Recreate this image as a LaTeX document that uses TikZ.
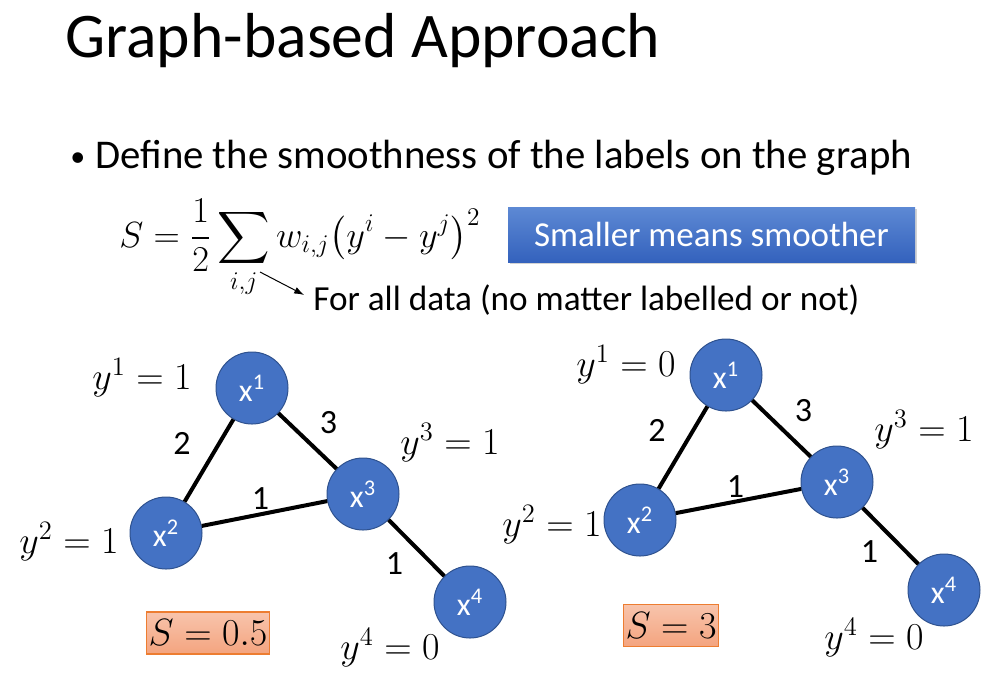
\RequirePackage{fix-cm}
\documentclass[tikz,border=0pt]{standalone}
\usepackage{amsmath,amssymb}
\usepackage[no-math]{fontspec}
\setmainfont{Carlito}
\usetikzlibrary{arrows.meta,shadows}

\definecolor{nodeblue}{HTML}{4472C4}
\definecolor{nodeline}{HTML}{2F528F}
\definecolor{boxtop}{HTML}{5D89D4}
\definecolor{boxbottom}{HTML}{3462BD}
\definecolor{salmontop}{HTML}{F8C4AC}
\definecolor{salmonbottom}{HTML}{F4A47F}
\definecolor{salmonline}{HTML}{ED7D31}

\begin{document}
\begin{tikzpicture}[x=0.5pt, y=-0.5pt,
	vtx/.style={circle, fill=nodeblue, draw=nodeline, line width=0.5pt, minimum size=36pt, inner sep=0pt, text=white, font=\fontsize{16}{16}\selectfont},
	edge/.style={line width=2pt},
	wlab/.style={font=\fontsize{17}{17}\selectfont, inner sep=0pt},
	ylab/.style={font=\fontsize{19}{19}\selectfont, inner sep=0pt},
	sbox/.style={draw=salmonline, top color=salmontop, bottom color=salmonbottom, line width=0.6pt, minimum height=21pt, inner xsep=1pt, font=\fontsize{19}{19}\selectfont}]
	\useasboundingbox (0,0) rectangle (997,677);
	% title and bullet
	\node[anchor=base west, inner sep=0pt, font=\fontsize{31.8}{31.8}\selectfont] (title) at (65,57) {Graph-based Approach};
	\node[anchor=base west, inner sep=0pt, font=\fontsize{15}{15}\selectfont] (dot) at (70,166) {\textbullet};
	\node[anchor=base west, inner sep=0pt, font=\fontsize{20.4}{20.4}\selectfont] (define) at (95,168) {Define the smoothness of the labels on the graph};
	% smoothness formula
	\node[anchor=base west, inner sep=0pt, font=\fontsize{18.2}{18.2}\selectfont] (formula) at (119,247) {$\displaystyle S=\frac{1}{2}\sum_{i,j} w_{i,j}\bigl(y^i-y^j\bigr)^2$};
	\node[anchor=base west, inner sep=0pt, font=\fontsize{17.6}{17.6}\selectfont] (forall) at (313,310) {For all data (no matter labelled or not)};
	\coordinate (ij) at (260,272);
	\draw[-{Latex[length=5pt, width=3.5pt]}, line width=0.5pt, shorten >=5pt] (ij) -- (forall.west);
	\node[minimum width=203.5pt, minimum height=27.5pt, inner sep=0pt, top color=boxtop, bottom color=boxbottom, text=white,
	  drop shadow={opacity=0.35, shadow xshift=1pt, shadow yshift=-1.2pt}, font=\fontsize{17.5}{17.5}\selectfont] (smooth) at (711.5,234.5) {Smaller means smoother};
	% left graph
	\node[vtx] (a1) at (252,388) {x\textsuperscript{1}};
	\node[vtx] (a2) at (166,533) {x\textsuperscript{2}};
	\node[vtx] (a3) at (363,494) {x\textsuperscript{3}};
	\node[vtx] (a4) at (470,602) {x\textsuperscript{4}};
	\draw[edge] (a1) -- node[wlab, xshift=-13.5pt, yshift=8.5pt] (a12) {2} (a2);
	\draw[edge] (a1) -- node[wlab, xshift=10.5pt, yshift=9pt] (a13) {3} (a3);
	\draw[edge] (a2) -- node[wlab, xshift=-2pt, yshift=7.5pt] (a23) {1} (a3);
	\draw[edge] (a3) -- node[wlab, xshift=-11pt, yshift=-8pt] (a34) {1} (a4);
	\node[ylab] (ay1) at (142,378) {$y^1=1$};
	\node[ylab] (ay2) at (69,542) {$y^2=1$};
	\node[ylab] (ay3) at (450,443) {$y^3=1$};
	\node[ylab] (ay4) at (390,648) {$y^4=0$};
	\node[sbox] (as) at (208,633) {$S=0.5$};
	% right graph
	\node[vtx] (b1) at (726,375) {x\textsuperscript{1}};
	\node[vtx] (b2) at (640,520) {x\textsuperscript{2}};
	\node[vtx] (b3) at (837,482) {x\textsuperscript{3}};
	\node[vtx] (b4) at (944,590) {x\textsuperscript{4}};
	\draw[edge] (b1) -- node[wlab, xshift=-13pt, yshift=8.5pt] (b12) {2} (b2);
	\draw[edge] (b1) -- node[wlab, xshift=11pt, yshift=9pt] (b13) {3} (b3);
	\draw[edge] (b2) -- node[wlab, xshift=-1.5pt, yshift=7pt] (b23) {1} (b3);
	\draw[edge] (b3) -- node[wlab, xshift=-10.5pt, yshift=-8pt] (b34) {1} (b4);
	\node[ylab] (by1) at (626,365) {$y^1=0$};
	\node[ylab] (by2) at (552,525) {$y^2=1$};
	\node[ylab] (by3) at (924,430) {$y^3=1$};
	\node[ylab] (by4) at (874,638) {$y^4=0$};
	\node[sbox] (bs) at (671,625.5) {$S=3$};
\end{tikzpicture}
\end{document}
